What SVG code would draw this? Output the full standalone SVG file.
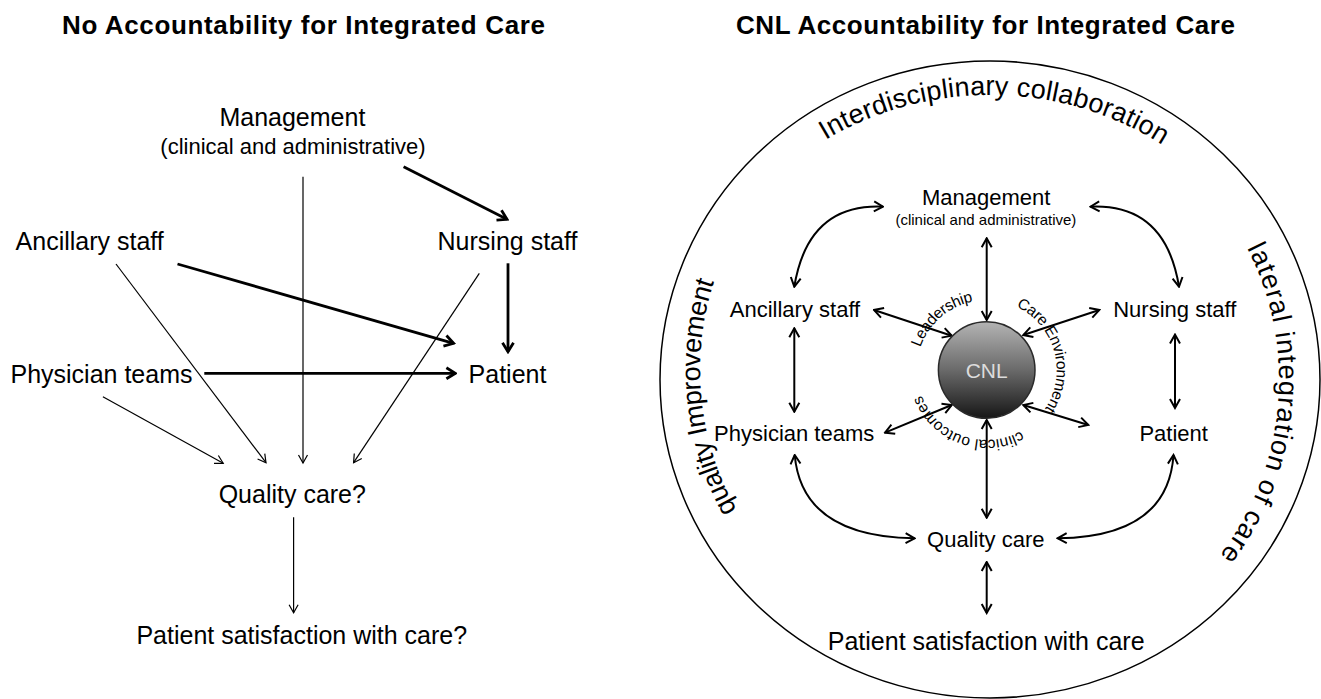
<svg xmlns="http://www.w3.org/2000/svg" width="1321" height="699" viewBox="0 0 1321 699">
<style>
text { font-family: "Liberation Sans", Arial, sans-serif; fill: #000; }
.ttl { font-size: 26px; font-weight: bold; text-anchor: middle; }
.lbl { font-size: 25px; text-anchor: middle; }
.sub { font-size: 22px; text-anchor: middle; }
.rl { font-size: 22px; text-anchor: middle; }
.rsub { font-size: 15px; text-anchor: middle; }
.arc { font-size: 27px; }
.sm { font-size: 15.5px; }
.thick { stroke: #000; stroke-width: 2.8; fill: none; marker-end: url(#ahB); }
.thin { stroke: #000; stroke-width: 1.2; fill: none; marker-end: url(#ahT); }
.dbl { stroke: #000; stroke-width: 2; fill: none; marker-start: url(#ahM); marker-end: url(#ahM); }
</style>
<defs>
<marker id="ahB" viewBox="0 0 14 14" refX="12" refY="7" markerWidth="14" markerHeight="14" markerUnits="userSpaceOnUse" orient="auto">
<path d="M3,1.5 L12,7 L3,12.5" fill="none" stroke="#000" stroke-width="2.8"/>
</marker>
<marker id="ahT" viewBox="0 0 12 12" refX="10.5" refY="6" markerWidth="12" markerHeight="12" markerUnits="userSpaceOnUse" orient="auto">
<path d="M2.5,1.5 L10.5,6 L2.5,10.5" fill="none" stroke="#000" stroke-width="1.2"/>
</marker>
<marker id="ahM" viewBox="0 0 13 13" refX="11.5" refY="6.5" markerWidth="13" markerHeight="13" markerUnits="userSpaceOnUse" orient="auto-start-reverse">
<path d="M2.5,1.5 L11.5,6.5 L2.5,11.5" fill="none" stroke="#000" stroke-width="2"/>
</marker>
<linearGradient id="cnlGrad" x1="0" y1="0" x2="0" y2="1">
<stop offset="0" stop-color="#b4b4b4"/>
<stop offset="0.5" stop-color="#6a6a6a"/>
<stop offset="1" stop-color="#161616"/>
</linearGradient>
<path id="pTop" d="M685,380 A305,285 0 0 1 1295,380"/>
<path id="pLeft" d="M842.5,616.8 A285,285 0 0 1 842.5,123.2"/>
<path id="pRight" d="M1134.5,129.7 A289,289 0 0 1 1134.5,630.3"/>
<path id="pSmall" d="M1056.7,370 A70,70 0 0 1 916.7,370 A70,70 0 0 1 1056.7,370 A70,70 0 0 1 916.7,370 A70,70 0 0 1 1056.7,370"/>
</defs>

<rect width="1321" height="699" fill="#fff"/>

<!-- Titles -->
<g id="title-left"><text class="ttl" x="303.5" y="34" textLength="483">No Accountability for Integrated Care</text></g>
<g id="title-right"><text class="ttl" x="985.5" y="34" textLength="499">CNL Accountability for Integrated Care</text></g>

<!-- Left panel nodes -->
<g id="l-management">
<text class="lbl" x="292.4" y="125.7">Management</text>
<text class="sub" x="293" y="154">(clinical and administrative)</text>
</g>
<g id="l-ancillary"><text class="lbl" x="89.7" y="250">Ancillary staff</text></g>
<g id="l-nursing"><text class="lbl" x="507.5" y="250">Nursing staff</text></g>
<g id="l-physician"><text class="lbl" x="101.5" y="382.7">Physician teams</text></g>
<g id="l-patient"><text class="lbl" x="507.5" y="382.7">Patient</text></g>
<g id="l-quality"><text class="lbl" x="292.3" y="503.3">Quality care?</text></g>
<g id="l-satisfaction"><text class="lbl" x="301.8" y="644">Patient satisfaction with care?</text></g>

<!-- Right panel -->
<g id="r-boundary">
<ellipse cx="990" cy="379.5" rx="330" ry="318.5" fill="none" stroke="#000" stroke-width="1.5"/>
<text class="arc" letter-spacing="0.2"><textPath href="#pTop" startOffset="50.5%" text-anchor="middle">Interdisciplinary collaboration</textPath></text>
<text class="arc" font-size="26" letter-spacing="-0.4"><textPath href="#pLeft" startOffset="270" text-anchor="middle">quality Improvement</textPath></text>
<text class="arc" letter-spacing="1.1"><textPath href="#pRight" startOffset="329" text-anchor="middle">lateral integration of care</textPath></text>
</g>

<g id="connectors">
<!-- left -->
<path class="thick" d="M403.6,166.7 L507,219.3"/>
<path class="thin" d="M303,176.7 L303,463"/>
<path class="thick" d="M177.5,264 L453.6,343.3"/>
<path class="thick" d="M508,263.3 L508,351.7"/>
<path class="thin" d="M116,264 L266,462.7"/>
<path class="thin" d="M479.3,273.3 L353.6,462.7"/>
<path class="thick" d="M204.3,373.3 L455.4,373.3"/>
<path class="thin" d="M102.9,396.7 L223.2,463.3"/>
<path class="thin" d="M293.6,517.3 L293.6,612.7"/>
<!-- right -->
<path class="dbl" d="M986.7,238.3 L986.7,320"/>
<path class="dbl" d="M874,310 L951.7,335.7"/>
<path class="dbl" d="M1023.3,335 L1099.3,310"/>
<path class="dbl" d="M885,432.7 L951.7,405"/>
<path class="dbl" d="M1023.3,405 L1088.3,425"/>
<path class="dbl" d="M986.7,420 L986.7,517.7"/>
<path class="dbl" d="M986.7,562 L986.7,613"/>
<path class="dbl" d="M794.3,328.3 L794.3,411.7"/>
<path class="dbl" d="M1175,334.6 L1175,408"/>
<path class="dbl" d="M883,206.7 Q808,203.3 794.3,286.7"/>
<path class="dbl" d="M1090.4,206.7 Q1165.4,203.3 1179,286.7"/>
<path class="dbl" d="M794.7,455 Q802,536.7 914.6,538.3"/>
<path class="dbl" d="M1173.5,455 Q1168,537 1057.7,538.3"/>
</g>

<g id="r-cnl">
<circle cx="986.7" cy="370" r="48.3" fill="url(#cnlGrad)" stroke="#2a2a2a" stroke-width="1.5"/>
<text x="986.7" y="378" font-size="21" text-anchor="middle" style="fill:#dcdcdc">CNL</text>
</g>
<g id="r-cnl-labels">
<text class="sm" letter-spacing="-0.4"><textPath href="#pSmall" startOffset="278.6" text-anchor="middle">Leadership</textPath></text>
<text class="sm" letter-spacing="-0.3"><textPath href="#pSmall" startOffset="419.7" text-anchor="middle">Care Environment</textPath></text>
<text class="sm" letter-spacing="0.1"><textPath href="#pSmall" startOffset="133.8" text-anchor="middle">clinical outcomes</textPath></text>
</g>

<g id="r-management">
<text class="rl" x="986.2" y="205">Management</text>
<text class="rsub" x="985.9" y="224.5">(clinical and administrative)</text>
</g>
<g id="r-ancillary"><text class="rl" x="795" y="317">Ancillary staff</text></g>
<g id="r-nursing"><text class="rl" x="1174.8" y="317">Nursing staff</text></g>
<g id="r-physician"><text class="rl" x="794.2" y="440.5">Physician teams</text></g>
<g id="r-patient"><text class="rl" x="1173.7" y="440.5">Patient</text></g>
<g id="r-quality"><text class="rl" x="985.8" y="546.7">Quality care</text></g>
<g id="r-satisfaction"><text class="lbl" x="986.2" y="650">Patient satisfaction with care</text></g>
</svg>
